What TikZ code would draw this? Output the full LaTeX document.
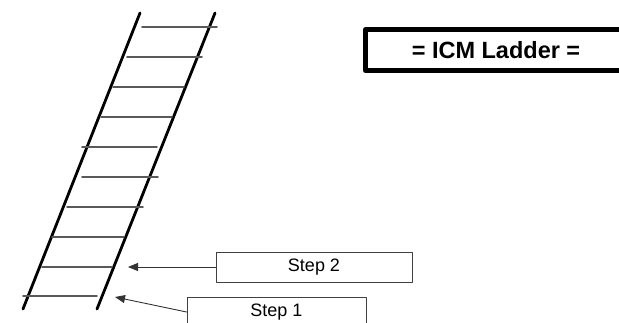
\documentclass[tikz,border=0pt]{standalone}
\usepackage{fontspec}
\setmainfont{Liberation Sans}
\usetikzlibrary{arrows.meta}
\begin{document}
\begin{tikzpicture}[x=1pt,y=-1pt,>={Triangle[length=10pt,width=8pt]}, line join=round, line cap=round]
            \tikzset{rail/.style={line width=2.8pt,black},
              rung/.style={line width=1.6pt,black!65},
              stepbox/.style={draw=black!75,line width=0.9pt,minimum height=30pt,inner sep=0pt,font=\fontsize{18}{18}\selectfont},
              titlebox/.style={draw,line width=4.6pt,minimum height=41pt,minimum width=261pt,inner sep=0pt,font=\fontsize{23.5}{24}\selectfont\bfseries}}
            \useasboundingbox (0,0) rectangle (619,323);
            \clip (0,0) rectangle (619,323);
            % rails
            \draw[rail] (140,13)--(23,309);
            \draw[rail] (215,13)--(97,309);
            % rungs
            \foreach \y/\l/\r in {27/142/217,57/127/202,87/113/184,117/101/172,147/82/157,
                                  177/82/158,207/67/143,237/52/124,267/42/112,296/23/97}
              \draw[rung] (\l,\y)--(\r,\y);
            \node[titlebox] (title) at (496,50) {= ICM Ladder =};
            \node[stepbox,minimum width=196pt] (step2) at (314,267) {Step 2};
            \node[stepbox,minimum width=179pt] (step1) at (276.5,312) {Step 1};
            \coordinate (tip2) at (128,267);
            \coordinate (tip1) at (115,297);
            \draw[->,line width=0.9pt,black!80] (step2.west)--(tip2);
            \draw[->,line width=0.9pt,black!80] (step1.west)--(tip1);
        \end{tikzpicture}
\end{document}
